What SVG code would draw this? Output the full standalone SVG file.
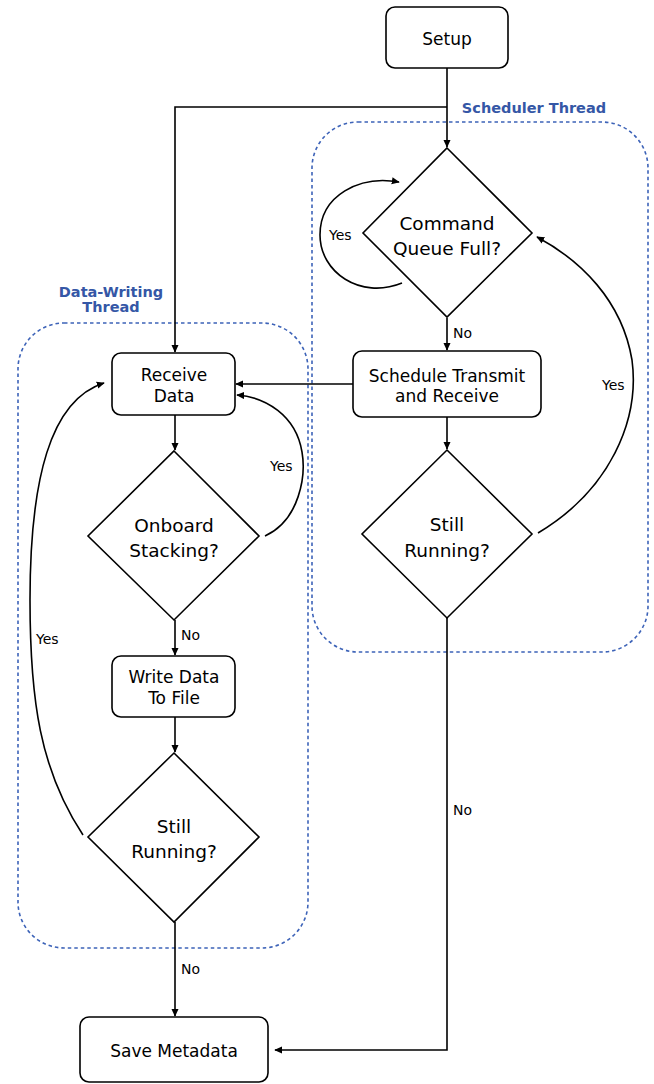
<svg xmlns="http://www.w3.org/2000/svg" width="654" height="1084" viewBox="0 0 654 1084">
<style>
.node{fill:#fff;stroke:#000;stroke-width:1.6}
.t{font-family:"DejaVu Sans",Verdana,sans-serif;font-size:17px;fill:#000;text-anchor:middle}
.td{font-family:"DejaVu Sans",Verdana,sans-serif;font-size:18.5px;fill:#000;text-anchor:middle}
.lbl{font-family:"DejaVu Sans",Verdana,sans-serif;font-size:14px;fill:#000}
.grp{fill:none;stroke:#3d63b8;stroke-width:1.6;stroke-dasharray:3.5 3}
.gl{font-family:"DejaVu Sans",Verdana,sans-serif;font-weight:bold;font-size:14.5px;fill:#3557a6;text-anchor:middle}
.c{fill:none;stroke:#000;stroke-width:1.6}
</style>
<defs>
<marker id="ah" viewBox="0 0 10 10" refX="9" refY="5" markerWidth="8" markerHeight="8" markerUnits="userSpaceOnUse" orient="auto">
<path d="M0,0.5 L10,5 L0,9.5 z" fill="#000"/>
</marker>
</defs>
<rect width="654" height="1084" fill="#fff"/>
<g id="scheduler-thread">
<rect class="grp" x="312" y="122" width="336" height="530" rx="46"/>
<text class="gl" x="534" y="113">Scheduler Thread</text>
</g>
<g id="data-writing-thread">
<rect class="grp" x="18" y="323" width="290" height="625" rx="46"/>
<text class="gl" x="111" y="297">Data-Writing</text>
<text class="gl" x="111" y="312">Thread</text>
</g>
<g id="connectors">
<path class="c" d="M447,68 V147" marker-end="url(#ah)"/>
<path class="c" d="M447,107 H175 V352" marker-end="url(#ah)"/>
<path class="c" d="M402,283 C360,300 320,272 320,235 C320,195 360,175 399,182" marker-end="url(#ah)"/>
<text class="lbl" x="329" y="240">Yes</text>
<path class="c" d="M447,318 V350" marker-end="url(#ah)"/>
<text class="lbl" x="453" y="338">No</text>
<path class="c" d="M353,384 H236" marker-end="url(#ah)"/>
<path class="c" d="M447,417 V449" marker-end="url(#ah)"/>
<path class="c" d="M538,533 C610,490 640,420 632,360 C622,300 580,260 537,237" marker-end="url(#ah)"/>
<text class="lbl" x="602" y="390">Yes</text>
<path class="c" d="M447,618 V1050 H275" marker-end="url(#ah)"/>
<text class="lbl" x="453" y="815">No</text>
<path class="c" d="M175,415 V450" marker-end="url(#ah)"/>
<path class="c" d="M265,536 C300,520 306,475 302,452 C296,415 265,397 237,395" marker-end="url(#ah)"/>
<text class="lbl" x="270" y="471">Yes</text>
<path class="c" d="M175,620 V655" marker-end="url(#ah)"/>
<text class="lbl" x="181" y="640">No</text>
<path class="c" d="M175,717 V752" marker-end="url(#ah)"/>
<path class="c" d="M83,835 C40,770 30,700 30,600 C30,480 50,400 104,383" marker-end="url(#ah)"/>
<text class="lbl" x="36" y="644">Yes</text>
<path class="c" d="M175,922 V1016" marker-end="url(#ah)"/>
<text class="lbl" x="181" y="974">No</text>
</g>
<g id="setup">
<rect class="node" x="386" y="7" width="122" height="61" rx="9"/>
<text class="t" x="447" y="45">Setup</text>
</g>
<g id="command-queue-full">
<polygon class="node" points="447,148 532,233 447,317 363,233"/>
<text class="td" x="447" y="230">Command</text>
<text class="td" x="447" y="255">Queue Full?</text>
</g>
<g id="schedule-transmit">
<rect class="node" x="353" y="351" width="188" height="66" rx="9"/>
<text class="t" x="447" y="382">Schedule Transmit</text>
<text class="t" x="447" y="402">and Receive</text>
</g>
<g id="still-running-right">
<polygon class="node" points="447,450 532,534 447,618 362,534"/>
<text class="td" x="447" y="531">Still</text>
<text class="td" x="447" y="557">Running?</text>
</g>
<g id="receive-data">
<rect class="node" x="112" y="353" width="123" height="62" rx="9"/>
<text class="t" x="174" y="381">Receive</text>
<text class="t" x="174" y="402">Data</text>
</g>
<g id="onboard-stacking">
<polygon class="node" points="174,451 259,536 174,620 88,536"/>
<text class="td" x="174" y="532">Onboard</text>
<text class="td" x="174" y="557">Stacking?</text>
</g>
<g id="write-data">
<rect class="node" x="112" y="656" width="123" height="61" rx="9"/>
<text class="t" x="174" y="683">Write Data</text>
<text class="t" x="174" y="704">To File</text>
</g>
<g id="still-running-left">
<polygon class="node" points="174,753 259,837 174,922 88,837"/>
<text class="td" x="174" y="833">Still</text>
<text class="td" x="174" y="858">Running?</text>
</g>
<g id="save-metadata">
<rect class="node" x="80" y="1017" width="188" height="65" rx="9"/>
<text class="t" x="174" y="1057">Save Metadata</text>
</g>
</svg>
